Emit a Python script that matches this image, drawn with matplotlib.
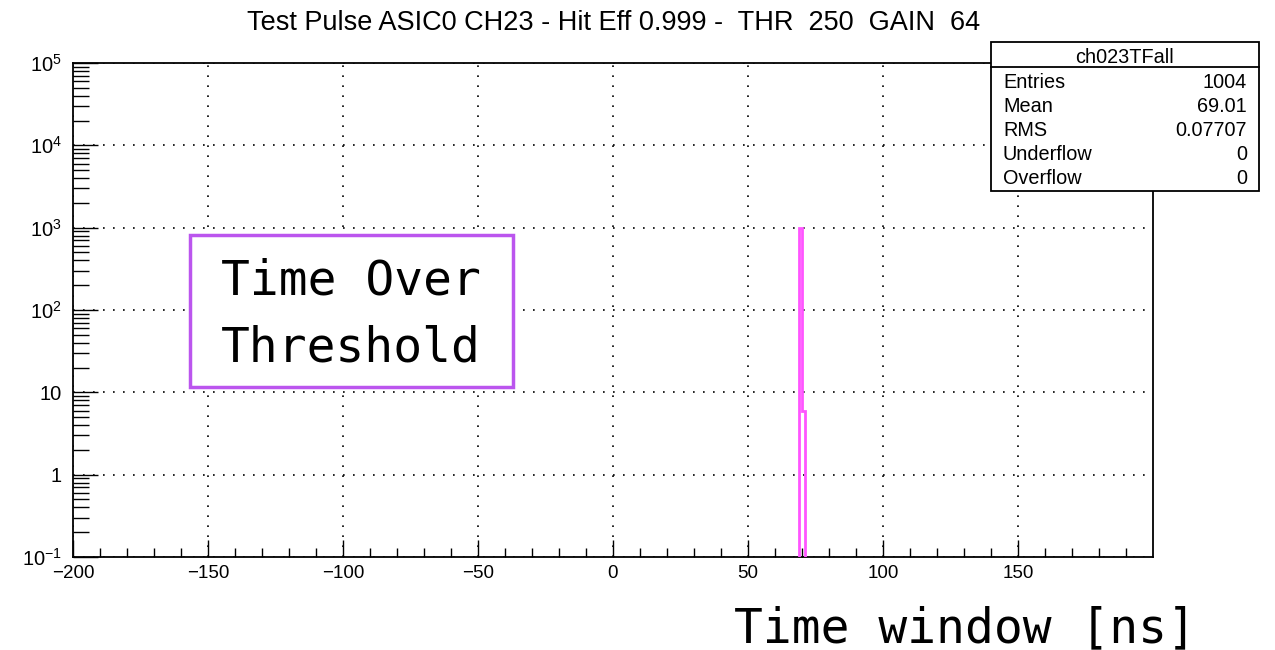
import matplotlib
matplotlib.use("Agg")
import matplotlib.pyplot as plt
from matplotlib.patches import Rectangle
from matplotlib.lines import Line2D
import numpy as np

plt.rcParams['font.family'] = ['Liberation Sans', 'DejaVu Sans']
plt.rcParams['mathtext.fontset'] = 'custom'
plt.rcParams['mathtext.rm'] = 'Liberation Sans'
plt.rcParams['axes.unicode_minus'] = True

# histogram: 400 bins of 1 ns from -200 to 200, only two bins filled
bin_lo = -200
bin_hi = 200
filled_bins = [69, 70]      # lower edge of the filled bins
filled_counts = [998, 6]

x_ticks = [-200, -150, -100, -50, 0, 50, 100, 150]
x_ticklabels = ['\u2212200', '\u2212150', '\u2212100', '\u221250', '0', '50', '100', '150']
y_ticks = [0.1, 1, 10, 100, 1000, 10000, 100000]
y_ticklabels = [r'$\mathdefault{10^{-1}}$', '1', '10', r'$\mathdefault{10^{2}}$',
                r'$\mathdefault{10^{3}}$', r'$\mathdefault{10^{4}}$', r'$\mathdefault{10^{5}}$']

title = 'Test Pulse ASIC0 CH23 - Hit Eff 0.999 -  THR  250  GAIN  64'
stats_name = 'ch023TFall'
stats_rows = [('Entries', '1004'), ('Mean', '69.01'), ('RMS', '0.07707'),
              ('Underflow', '0'), ('Overflow', '0')]

edges = np.arange(bin_lo, bin_hi + 1)
counts = np.zeros(len(edges) - 1)
for b, c in zip(filled_bins, filled_counts):
    counts[b - bin_lo] = c

W, H = 1275, 650
fig = plt.figure(figsize=(W / 100, H / 100), dpi=100)
ax = fig.add_axes([73 / W, 1 - 557 / H, (1153 - 73) / W, (557 - 63) / H])

ax.set_yscale('log', nonpositive='clip')
# empty bins sit on the bottom of the frame, as ROOT draws them
ax.stairs(np.where(counts > 0, counts, 1e-6), edges, color='#ff55ff', lw=2.0,
          baseline=1e-6, zorder=3)
ax.set_xlim(bin_lo, bin_hi)
ax.set_ylim(0.1, 1e5)

ax.set_xticks(x_ticks)
ax.set_xticklabels(x_ticklabels)
ax.set_xticks(np.arange(-190, 200, 10), minor=True)
ax.set_yticks(y_ticks)
ax.set_yticklabels(y_ticklabels)
ax.yaxis.set_minor_locator(matplotlib.ticker.LogLocator(base=10, subs=np.arange(2, 10), numticks=20))
ax.yaxis.set_minor_formatter(matplotlib.ticker.NullFormatter())

ax.tick_params(axis='x', which='major', direction='in', length=12, width=1, labelsize=13.5, pad=6,
               top=False)
ax.tick_params(axis='x', which='minor', direction='in', length=6.5, width=1, top=False)
ax.tick_params(axis='y', which='major', direction='in', length=18, width=1, labelsize=14.5, pad=8,
               right=False)
ax.tick_params(axis='y', which='minor', direction='in', length=11.5, width=1, right=False)

ax.grid(True, which='major', color='black', linestyle=(0, (1, 5)), lw=1.2)
for s in ax.spines.values():
    s.set_linewidth(1.3)
    s.set_color('black')

fig.text(614 / W, 1 - 30 / H, title, ha='center', va='baseline', fontsize=19.5)

# stats box
sx0, sx1, sy0, sy1 = 991, 1259, 42, 191
fig.patches.append(Rectangle((sx0 / W, 1 - sy1 / H), (sx1 - sx0) / W, (sy1 - sy0) / H,
                             transform=fig.transFigure, facecolor='white', edgecolor='black',
                             lw=1.3, zorder=5))
fig.add_artist(Line2D([sx0 / W, sx1 / W], [1 - 67 / H, 1 - 67 / H], color='black', lw=1.3, zorder=6))
fig.text((sx0 + sx1) / 2 / W, 1 - 63 / H, stats_name, ha='center', va='baseline', fontsize=14.3, zorder=7)
row_base = [88, 112, 136, 160, 184]
for (k, v), yb in zip(stats_rows, row_base):
    fig.text(1003 / W, 1 - yb / H, k, ha='left', va='baseline', fontsize=14.3, zorder=7)
    fig.text(1247 / W, 1 - yb / H, v, ha='right', va='baseline', fontsize=14.3, zorder=7)

# label box
bx0, bx1, by0, by1 = 190, 513, 235, 387
fig.patches.append(Rectangle((bx0 / W, 1 - by1 / H), (bx1 - bx0) / W, (by1 - by0) / H,
                             transform=fig.transFigure, facecolor='white', edgecolor='#bb55ee',
                             lw=2.5, zorder=5))
fig.text(221 / W, 1 - 295 / H, 'Time Over', family='DejaVu Sans Mono', fontsize=34.5,
         ha='left', va='baseline', zorder=7)
fig.text(221 / W, 1 - 362 / H, 'Threshold', family='DejaVu Sans Mono', fontsize=34.5,
         ha='left', va='baseline', zorder=7)

fig.text(734 / W, 1 - 642 / H, 'Time window [ns]', family='DejaVu Sans Mono', fontsize=34.5,
         ha='left', va='baseline')

fig.savefig('out.png', dpi=100)
